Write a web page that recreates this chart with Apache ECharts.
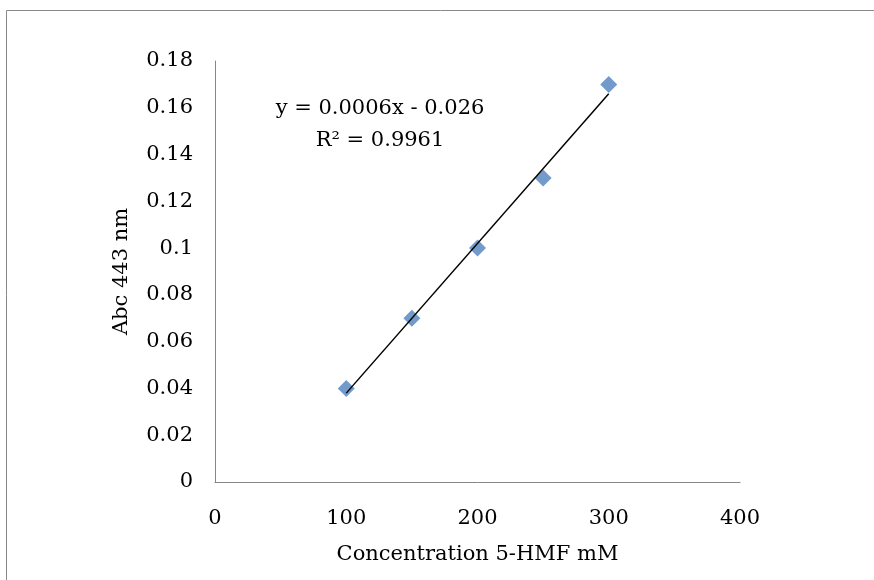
<!DOCTYPE html>
<html><head><meta charset="utf-8">
<script src="https://cdn.jsdelivr.net/npm/echarts@6/dist/echarts.min.js"></script>
<style>html,body{margin:0;padding:0;background:#fff}#c{width:874px;height:580px}</style>
</head><body><div id="c"></div>
<script>
const concentrations = [100, 150, 200, 250, 300];
const absorbance = [0.04, 0.07, 0.10, 0.13, 0.17];
const trendSlope = 0.00064;
const trendIntercept = -0.026;
const trendX = [100, 300];
const equationText = 'y = 0.0006x - 0.026';
const r2Text = 'R² = 0.9961';
const xTitle = 'Concentration 5-HMF mM';
const yTitle = 'Abc 443 nm';

const font = 'DejaVu Serif';
const fs = 21;
const chart = echarts.init(document.getElementById('c'));
chart.setOption({
  animation: false,
  backgroundColor: '#fff',
  grid: {left: 215, right: 134, top: 61, bottom: 98},
  xAxis: {
    type: 'value', min: 0, max: 400, interval: 100,
    name: xTitle, nameLocation: 'middle', nameGap: 62,
    nameTextStyle: {fontFamily: font, fontSize: fs, color: '#000'},
    axisLine: {lineStyle: {color: '#868686', width: 1}},
    axisTick: {show: false},
    splitLine: {show: false},
    axisLabel: {fontFamily: font, fontSize: fs, color: '#000', margin: 26}
  },
  yAxis: {
    type: 'value', min: 0, max: 0.18, interval: 0.02,
    name: yTitle, nameLocation: 'middle', nameGap: 83,
    nameTextStyle: {fontFamily: font, fontSize: fs, color: '#000'},
    axisLine: {show: true, lineStyle: {color: '#868686', width: 1}},
    axisTick: {show: false},
    splitLine: {show: false},
    axisLabel: {fontFamily: font, fontSize: fs, color: '#000', margin: 22,
      formatter: v => String(+v.toFixed(2))}
  },
  series: [
    {
      type: 'line',
      data: trendX.map(x => [x, trendSlope * x + trendIntercept]),
      symbol: 'none',
      lineStyle: {color: '#000', width: 1.5},
      z: 3
    },
    {
      type: 'scatter',
      data: concentrations.map((x, i) => [x, absorbance[i]]),
      symbol: 'diamond',
      symbolSize: [17, 17],
      itemStyle: {color: '#4F81BD'},
      z: 2
    }
  ],
  graphic: [
    {type: 'line', shape: {x1: 6.5, y1: 10.5, x2: 874, y2: 10.5}, style: {stroke: '#888', lineWidth: 1}},
    {type: 'line', shape: {x1: 6.5, y1: 10.5, x2: 6.5, y2: 580}, style: {stroke: '#888', lineWidth: 1}},
    {type: 'text', x: 380, y: 109, style: {text: equationText, font: fs + 'px "DejaVu Serif"', fill: '#000', textAlign: 'center', textVerticalAlign: 'middle'}},
    {type: 'text', x: 380, y: 141, style: {text: r2Text, font: fs + 'px "DejaVu Serif"', fill: '#000', textAlign: 'center', textVerticalAlign: 'middle'}}
  ]
});
</script></body></html>
